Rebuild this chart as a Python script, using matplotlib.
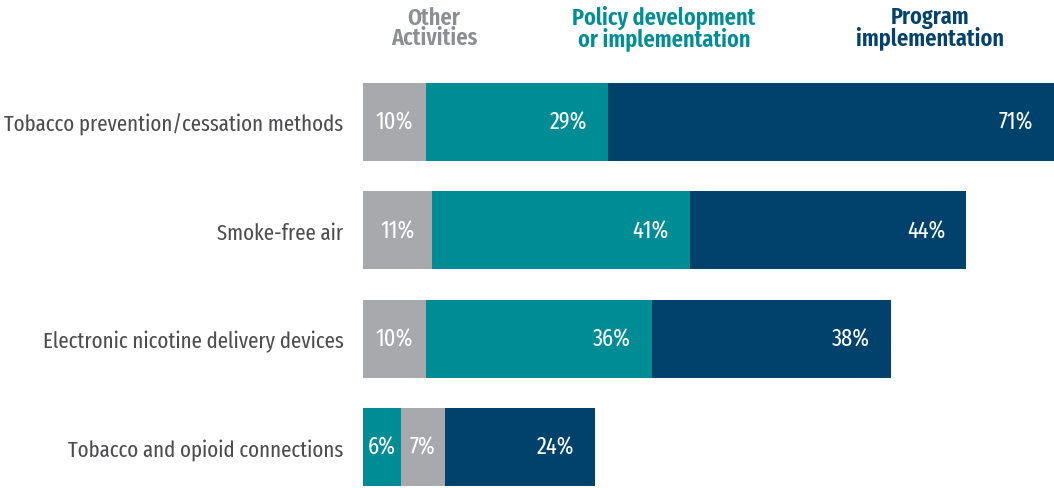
import matplotlib
matplotlib.use('Agg')
import matplotlib.pyplot as plt
from matplotlib import font_manager

# Pick a condensed font if one is installed.
names = set(f.name for f in font_manager.fontManager.ttflist)
narrow = 'DejaVu Sans'
for cand in ['Fira Sans Extra Condensed', 'Fira Sans Condensed', 'Roboto Condensed',
             'Liberation Sans Narrow']:
    if cand in names:
        narrow = cand
        break
plt.rcParams['font.family'] = [narrow, 'DejaVu Sans']

# Data.
categories = ['Tobacco prevention/cessation methods', 'Smoke-free air',
              'Electronic nicotine delivery devices', 'Tobacco and opioid connections']
other = [10, 11, 10, 7]
policy = [29, 41, 36, 6]
program = [71, 44, 38, 24]
# Order of segments in each bar, left to right.
stack_order = [['other', 'policy', 'program'],
               ['other', 'policy', 'program'],
               ['other', 'policy', 'program'],
               ['policy', 'other', 'program']]

values = {'other': other, 'policy': policy, 'program': program}
colors = {'other': '#A7A9AC', 'policy': '#008C95', 'program': '#00426B'}
headers = {'other': 'Other\nActivities',
           'policy': 'Policy development\nor implementation',
           'program': 'Program\nimplementation'}

fig = plt.figure(figsize=(10.54, 4.89), dpi=100)
ax = fig.add_axes([363 / 1054, 0, 1 - 363 / 1054, 1])

for i, cat in enumerate(categories):
    left = 0
    for key in stack_order[i]:
        v = values[key][i]
        ax.barh(i, v, left=left, height=0.72, color=colors[key], edgecolor='none')
        if v >= 15:
            ax.text(left + v - 3.3, i, f'{v}%', ha='right', va='center',
                    color='white', fontsize=17.5)
        else:
            ax.text(left + v / 2, i, f'{v}%', ha='center', va='center',
                    color='white', fontsize=17.5)
        left += v

ax.set_xlim(0, 110)
ax.set_ylim(3 + 41 / 108.33, -123 / 108.33)
ax.set_yticks(range(len(categories)))
ax.set_yticklabels(categories, fontsize=16.3, color='#4D4D4F')
ax.tick_params(axis='y', length=0, pad=14)
ax.set_xticks([])
for s in ax.spines.values():
    s.set_visible(False)

# Column headers above the bars.
header_x = {'other': 434, 'policy': 664, 'program': 930}
for key in ['other', 'policy', 'program']:
    fig.text(header_x[key] / 1054, 1 - 28 / 489, headers[key], ha='center', va='center',
             color=colors[key] if key != 'other' else '#8C8E91', fontsize=17.4,
             fontweight='semibold', linespacing=0.85)

fig.savefig('out.png', dpi=100)
